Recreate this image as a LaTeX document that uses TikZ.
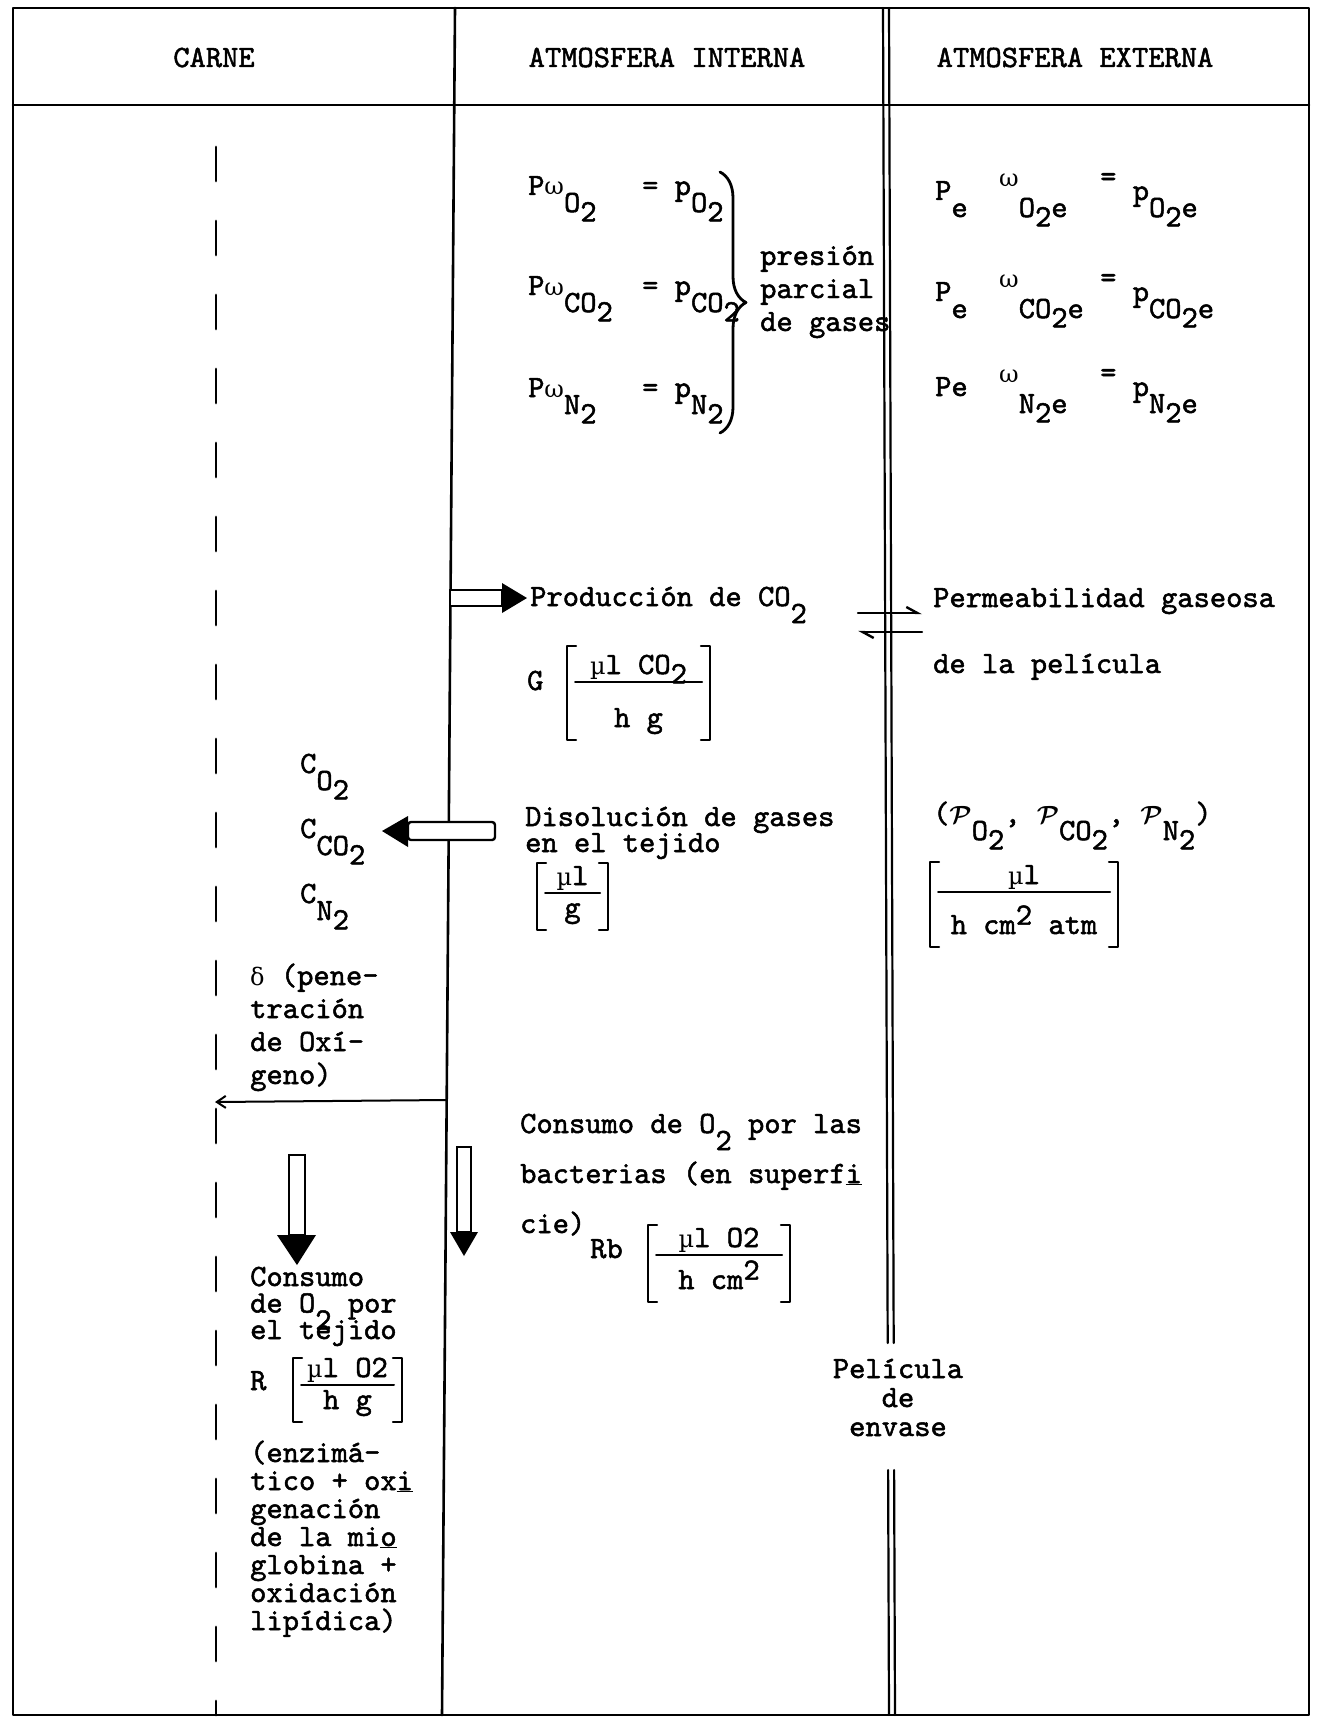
\documentclass[tikz,border=0pt]{standalone}
\usepackage{fontspec}
\usetikzlibrary{arrows.meta, decorations.pathreplacing}

\newfontfamily\maquina{lmmono10-regular.otf}[FakeBold=1.6]
\newfontfamily\griega{DejaVu Serif}

% subindices y superindices de maquina de escribir
\newcommand\bajo[1]{\raisebox{-0.55em}{#1}}
\newcommand\bajito[1]{\raisebox{-0.3em}{#1}}
\newcommand\alto[1]{\raisebox{0.45em}{#1}}
\newcommand\exponente[1]{\raisebox{0.3em}{#1}}
\newcommand\griego[1]{{\griega\fontsize{24}{24}\selectfont#1}}
\newcommand\perm{{\boldmath$\mathcal{P}$}}
% varias lineas con interlineado fijo
\newcommand\renglones[2]{\vtop{\baselineskip=#1\lineskiplimit=-\maxdimen\halign{##\hfil\cr#2\crcr}}}
\newcommand\renglonesc[2]{\vtop{\baselineskip=#1\lineskiplimit=-\maxdimen\halign{\hfil##\hfil\cr#2\crcr}}}
% unidades entre corchetes: nombre, x izq, x der, arriba, raya, abajo, numerador, denominador
\newcommand\fraccion[8]{%
  \draw[corchete] (#2+9,#4) -| (#2,#6) -- (#2+9,#6);
  \draw[corchete] (#3-9,#4) -| (#3,#6) -- (#3-9,#6);
  \draw[raya] (#2+8,#5) -- (#3-8,#5);
  \node[texto, anchor=base] (#1n) at ({(#2+#3)/2},#5-8) {#7};
  \node[texto, anchor=base] (#1d) at ({(#2+#3)/2},#6-13) {#8};
}

\begin{document}
\begin{tikzpicture}[x=1pt, y=-1pt, line cap=round, line join=round,
  texto/.style={font=\maquina\fontsize{31}{33}\selectfont, inner sep=0pt, anchor=base west},
  marco/.style={line width=2.6pt},
  corchete/.style={line width=2.2pt},
  raya/.style={line width=2pt},
  cuerpo/.style={draw, fill=white, line width=2.4pt, line join=miter},
  punta/.style={fill=black},
  llave/.style={decorate, decoration={brace, amplitude=26pt}, line width=2.8pt},
  arpon/.style={-{Straight Barb[harpoon, length=11pt, width=12pt]}, line width=2.4pt}]
  \useasboundingbox (0,0) rectangle (1319,1720);

  % Marco y cabecera
  \draw[marco] (13,8) rectangle (1309,1715);
  \draw[marco] (13,105) -- (1309,105);
  \node[texto, anchor=base] (carne) at (214,67) {CARNE};
  \node[texto, anchor=base] (interna) at (667,67) {ATMOSFERA INTERNA};
  \node[texto, anchor=base] (externa) at (1075,67) {ATMOSFERA EXTERNA};

  % Separaciones
  \draw[marco] (455,8) -- (442,1715);
  \draw[line width=2.8pt, dash pattern=on 34pt off 40pt] (216,147) -- (216,1715);
  \foreach \dx in {0,6} {
    \draw[line width=2.2pt] (883+\dx,8) -- (887.7+\dx,1343);
    \draw[line width=2.2pt] (888.1+\dx,1470) -- (889+\dx,1715);
  }

  % Presiones parciales, atmosfera interna
  \foreach \y/\g/\n in {195/O/o, 295/CO/co, 397/N/n} {
    \node[texto] (pw\n) at (528,\y) {P\griego{ω}\bajo{\g\bajito{2}}};
    \node[texto] (pp\n) at (642,\y) {= p\bajo{\g\bajito{2}}};
  }
  \draw[llave] (720,172) -- (720,433);
  \node[texto] (presion) at (760,265) {\renglones{33pt}{presión\cr parcial\cr de gases}};

  % Presiones parciales, atmosfera externa
  \foreach \y/\g/\cab/\n in {200/O/P\bajo{e}/o, 301/CO/P\bajo{e}/co, 396/N/Pe/n} {
    \node[texto] (pe\n) at (935,\y) {\cab};
    \node[texto] (we\n) at (999,\y) {\alto{\griego{ω}}\bajo{\g\bajito{2}e}};
    \node[texto] (qe\n) at (1100,\y) {\alto{=} p\bajo{\g\bajito{2}e}};
  }

  % Produccion de CO2
  \draw[cuerpo] (450,590) rectangle (502,606);
  \fill[punta] (502,583) -- (527,598) -- (502,613) -- cycle;
  \node[texto] (produccion) at (530,606) {Producción de CO\bajo{2}};
  \node[texto] (g) at (527,690) {G};
  \fraccion{ug}{567}{710}{646}{682}{740}{\griego{µ}l CO\bajito{2}}{h g}

  % Permeabilidad de la pelicula
  \draw[arpon] (858,613) -- (922,613);
  \draw[arpon] (922,632) -- (858,632);
  \node[texto] (permeab) at (933,607) {\renglones{66pt}{Permeabilidad gaseosa\cr de la película}};
  \node[texto] (coefp) at (933,823) {(\perm\bajo{O\bajito{2}}, \perm\bajo{CO\bajito{2}}, \perm\bajo{N\bajito{2}})};
  \fraccion{up}{930}{1118}{862}{892}{947}{\griego{µ}l}{h cm\exponente{2} atm}

  % Disolucion en el tejido
  \draw[cuerpo, rounded corners=3pt] (408,822) rectangle (495,840);
  \fill[punta] (408,816) -- (382,831) -- (408,847) -- cycle;
  \node[texto] (disolucion) at (525,826) {\renglones{26pt}{Disolución de gases\cr en el tejido}};
  \fraccion{ud}{537}{608}{863}{893}{930}{\griego{µ}l}{g}

  % Concentraciones
  \foreach \y/\g/\n in {773/O/o, 838/CO/co, 903/N/n}
    \node[texto] (c\n) at (300,\y) {C\bajo{\g\bajito{2}}};

  % Penetracion de oxigeno
  \node[texto] (delta) at (250,985) {\renglones{33pt}{\griego{δ} (pene-\cr tración\cr de Oxí-\cr geno)}};
  \coordinate (dsal) at (447,1100);
  \coordinate (dlleg) at (215,1102);
  \draw[-{Straight Barb[length=9pt, width=12pt]}, line width=2pt] (dsal) -- (dlleg);

  % Consumo por las bacterias
  \draw[cuerpo] (457,1147) rectangle (471,1232);
  \fill[punta] (450,1232) -- (478,1232) -- (464,1256) -- cycle;
  \node[texto] (bacterias) at (520,1133) {\renglones{50pt}{Consumo de O\bajo{2} por las\cr bacterias (en superf\underline{i}\cr cie)}};
  \node[texto] (rb) at (590,1258) {Rb};
  \fraccion{urb}{648}{790}{1225}{1255}{1302}{\griego{µ}l O2}{h cm\exponente{2}}

  % Consumo por el tejido
  \draw[cuerpo] (289,1155) rectangle (305,1235);
  \fill[punta] (277,1235) -- (316,1235) -- (297,1265) -- cycle;
  \node[texto] (tejido) at (250,1286) {\renglones{26.5pt}{Consumo\cr de O\bajo{2} por\cr el tejido}};
  \node[texto] (r) at (250,1390) {R};
  \fraccion{ur}{293}{402}{1358}{1385}{1422}{\griego{µ}l O2}{h g}
  \node[texto] (enzima) at (250,1462) {\renglones{28pt}{(enzimá-\cr tico + ox\underline{i}\cr genación\cr de la mi\underline{o}\cr globina +\cr oxidación\cr lipídica)}};

  % Pelicula de envase
  \node[texto, anchor=base] (pelicula) at (898,1378) {\renglonesc{29pt}{Película\cr de\cr envase}};
\end{tikzpicture}
\end{document}
